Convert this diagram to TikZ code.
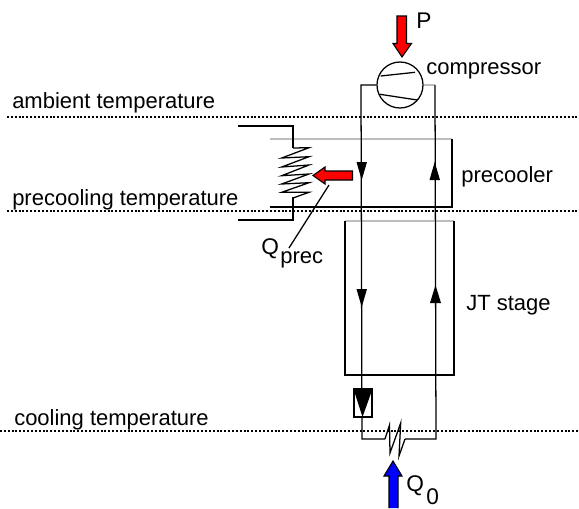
\documentclass[tikz,border=0pt]{standalone}
\usepackage{fontspec}
\setmainfont{Liberation Sans}
\tikzset{
  pipe/.style={color=black,line width=0.95},
  wall/.style={color=black,line width=0.95},
  faint/.style={color={rgb, 255:red, 190; green, 190; blue, 190},line width=0.8},
  level/.style={color=black,line width=0.95,dash pattern=on 1.5 off 1.4},
  heatarrow/.style={draw=black,line width=0.8,line join=miter},
  lbl/.style={font=\fontsize{16.5}{20}\selectfont,inner sep=0,anchor=base west},
  idx/.style={font=\fontsize{17}{20}\selectfont,inner sep=0,anchor=base west}
}
\begin{document}
\begin{tikzpicture}[x=0.75pt,y=0.75pt,yscale=-1,xscale=1]
\useasboundingbox (0,0) rectangle (579,508);

% Named points of the loop
\coordinate (pipeLtop) at (361,85);
\coordinate (pipeRtop) at (435,85);
\coordinate (pipeLbot) at (362,439);
\coordinate (pipeRbot) at (436,439);
\coordinate (hxL) at (385,439);
\coordinate (hxR) at (405,439);

%Temperature levels
\draw [level] (7,117) -- (579,117);
\draw [level] (7,211) -- (579,211);
\draw [level] (0,431) -- (579,431);

%Precooler box
\coordinate (preTL) at (270,139);
\coordinate (preTR) at (452,139);
\coordinate (preBR) at (452,207);
\coordinate (preBL) at (270,207);
\draw [faint] (preTL) -- (preTR);
\draw [wall] (preTR) -- (preBR) -- (preBL);

%JT box
\coordinate (jtTL) at (345,221);
\coordinate (jtTR) at (454,221);
\coordinate (jtBR) at (454,375);
\coordinate (jtBL) at (345,375);
\draw [faint] (jtTL) -- (jtTR);
\draw [wall] (jtTL) -- (jtBL) -- (jtBR) -- (jtTR);

%Pipes
\node (comp) [circle,draw,line width=0.95,minimum size=34.5pt,inner sep=0] at (400,85) {};
\draw [pipe] (comp.west) -- (pipeLtop) -- (pipeLbot) -- (hxL);
\draw [faint] (comp.east) -- (pipeRtop);
\draw [pipe] (pipeRtop) -- (pipeRbot) -- (hxR);

%Compressor blades
\draw [pipe] (380.7,76) -- (415,72.3);
\draw [pipe] (380,94.3) -- (417.3,100);

%Cooling heat exchanger
\draw [pipe] (hxL) -- (389.5,425) -- (390,453) -- (400.7,423) -- (399,456) -- (hxR);

%Valve
\draw [wall,fill=white] (354,389) rectangle (372,417);
\fill (353.5,389) -- (372.5,389) -- (362.5,417) -- cycle;

%Precooling coil
\draw [wall] (238,126) -- (293,126) -- (293,148);
\draw [wall] (238,220) -- (293,220) -- (293,197);
\draw [pipe] (293,148) -- (309,147.7) -- (281.7,158) -- (309,156.7) -- (281.7,167) -- (309,165) -- (281.7,175.7) -- (309,174) -- (281.7,184) -- (309,182.7) -- (281.7,192.3) -- (309,192.3) -- (293,198);

%Flow arrows
\fill (356.5,162) -- (367,162) -- (361.7,180) -- cycle;
\fill (356.5,289) -- (367,289) -- (361.7,307) -- cycle;
\fill (429.5,180) -- (440,180) -- (434.7,162) -- cycle;
\fill (430,303) -- (441,303) -- (435.5,285) -- cycle;

%Heat arrows
\draw [heatarrow,fill=red] (397,16) -- (406.5,16) -- (406.5,43.5) -- (411.5,43.5) -- (402,57) -- (393,43.5) -- (397,43.5) -- cycle;
\draw [heatarrow,fill=red] (352.5,171) -- (352.5,180) -- (325,180) -- (325,184) -- (313,175.5) -- (325,167) -- (325,171) -- cycle;
\draw [heatarrow,fill=blue] (389,508) -- (389,476) -- (384,476) -- (393,461) -- (402,476) -- (398,476) -- (398,508);

%Leader
\draw [pipe] (329,185) -- (289,248);

% Text Node
\node (tP) [idx] at (416,28) {P};
\node (tComp) [lbl] at (426,74) {compressor};
\node (tAmb) [lbl] at (12,108) {ambient temperature};
\node (tPrecool) [lbl] at (12,205) {precooling temperature};
\node (tCool) [lbl] at (14,425) {cooling temperature};
\node (tPre) [lbl] at (461,182) {precooler};
\node (tJT) [lbl] at (466,310) {JT stage};
\node (tQp) [idx] at (261,254) {Q};
\node (tPrec) [lbl] at (280,263.5) {prec};
\node (tQ0) [idx] at (406,491.5) {Q};
\node (t0) [idx] at (426,504) {0};
\end{tikzpicture}
\end{document}
